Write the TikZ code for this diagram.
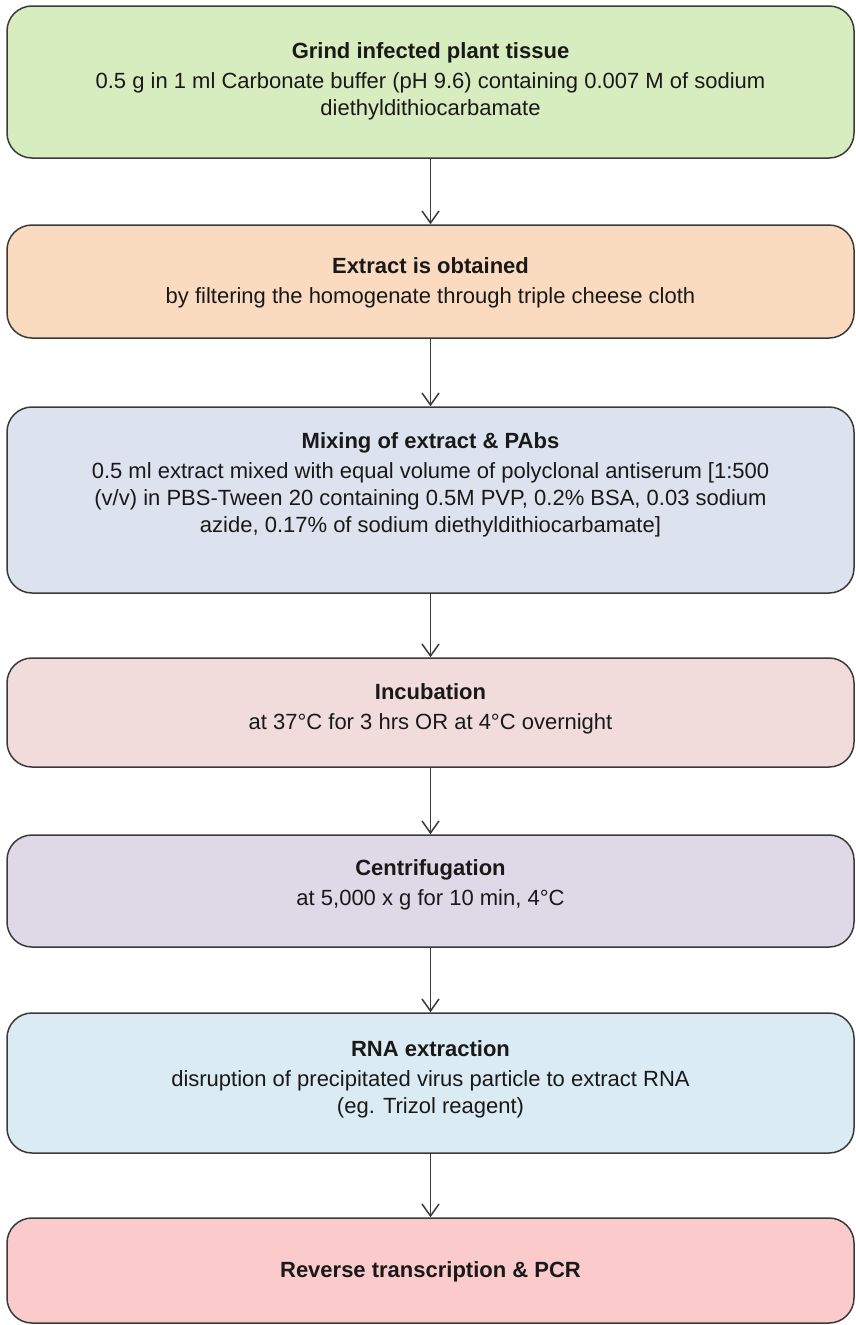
\documentclass[tikz,border=0pt]{standalone}
\usepackage{fontspec}
\setmainfont{Liberation Sans}
\usetikzlibrary{arrows.meta}
\definecolor{cgreen}{HTML}{D7EDC0}
\definecolor{cpeach}{HTML}{FBDBC0}
\definecolor{cgrayblue}{HTML}{DCE3EE}
\definecolor{crose}{HTML}{F1DCDB}
\definecolor{clav}{HTML}{DFD8E7}
\definecolor{clblue}{HTML}{DAEBF3}
\definecolor{cpink}{HTML}{FBCBCB}
\definecolor{cline}{HTML}{3A3A3A}
\tikzset{
  stepbox/.style={draw=cline, line width=1.5pt, rounded corners=25pt,
    minimum width=847pt, inner sep=0pt},
  txt/.style={align=center, font=\fontsize{22pt}{27pt}\selectfont, text=black!90, inner sep=0pt},
  arr/.style={draw=cline, line width=1.5pt, -{Straight Barb[length=12pt,width=17pt,line width=1.5pt]}}
}
\begin{document}
\begin{tikzpicture}[x=1pt,y=-1pt]
\useasboundingbox (0,0) rectangle (856,1325);
\node[stepbox, fill=cgreen, minimum height=152pt] (b1) at (430.5,82) {};
\node[stepbox, fill=cpeach, minimum height=113pt] (b2) at (430.5,281.5) {};
\node[stepbox, fill=cgrayblue, minimum height=186pt] (b3) at (430.5,500) {};
\node[stepbox, fill=crose, minimum height=109pt] (b4) at (430.5,712.5) {};
\node[stepbox, fill=clav, minimum height=112pt] (b5) at (430.5,891) {};
\node[stepbox, fill=clblue, minimum height=140pt] (b6) at (430.5,1083) {};
\node[stepbox, fill=cpink, minimum height=105pt] (b7) at (430.5,1270.5) {};

\node[txt] (t1) at (430.5,81) {\textbf{Grind infected plant tissue}\\[3pt]0.5 g in 1 ml Carbonate buffer (pH 9.6) containing 0.007 M of sodium\\diethyldithiocarbamate};
\node[txt] (t2) at (430.5,283) {\textbf{Extract is obtained}\\[3pt]by filtering the homogenate through triple cheese cloth};
\node[txt] (t3) at (430.5,485) {\textbf{Mixing of extract \& PAbs}\\[3pt]0.5 ml extract mixed with equal volume of polyclonal antiserum [1:500\\(v/v) in PBS-Tween 20 containing 0.5M PVP, 0.2\% BSA, 0.03 sodium\\azide, 0.17\% of sodium diethyldithiocarbamate]};
\node[txt] (t4) at (430.5,709) {\textbf{Incubation}\\[3pt]at 37°C for 3 hrs OR at 4°C overnight};
\node[txt] (t5) at (430.5,885) {\textbf{Centrifugation}\\[3pt]at 5,000 x g for 10 min, 4°C};
\node[txt] (t6) at (430.5,1079) {\textbf{RNA extraction}\\[3pt]disruption of precipitated virus particle to extract RNA\\(eg. Trizol reagent)};
\node[txt] (t7) at (430.5,1272) {\textbf{Reverse transcription \& PCR}};

\draw[arr] (b1.south) -- (b2.north);
\draw[arr] (b2.south) -- (b3.north);
\draw[arr] (b3.south) -- (b4.north);
\draw[arr] (b4.south) -- (b5.north);
\draw[arr] (b5.south) -- (b6.north);
\draw[arr] (b6.south) -- (b7.north);
\end{tikzpicture}
\end{document}
